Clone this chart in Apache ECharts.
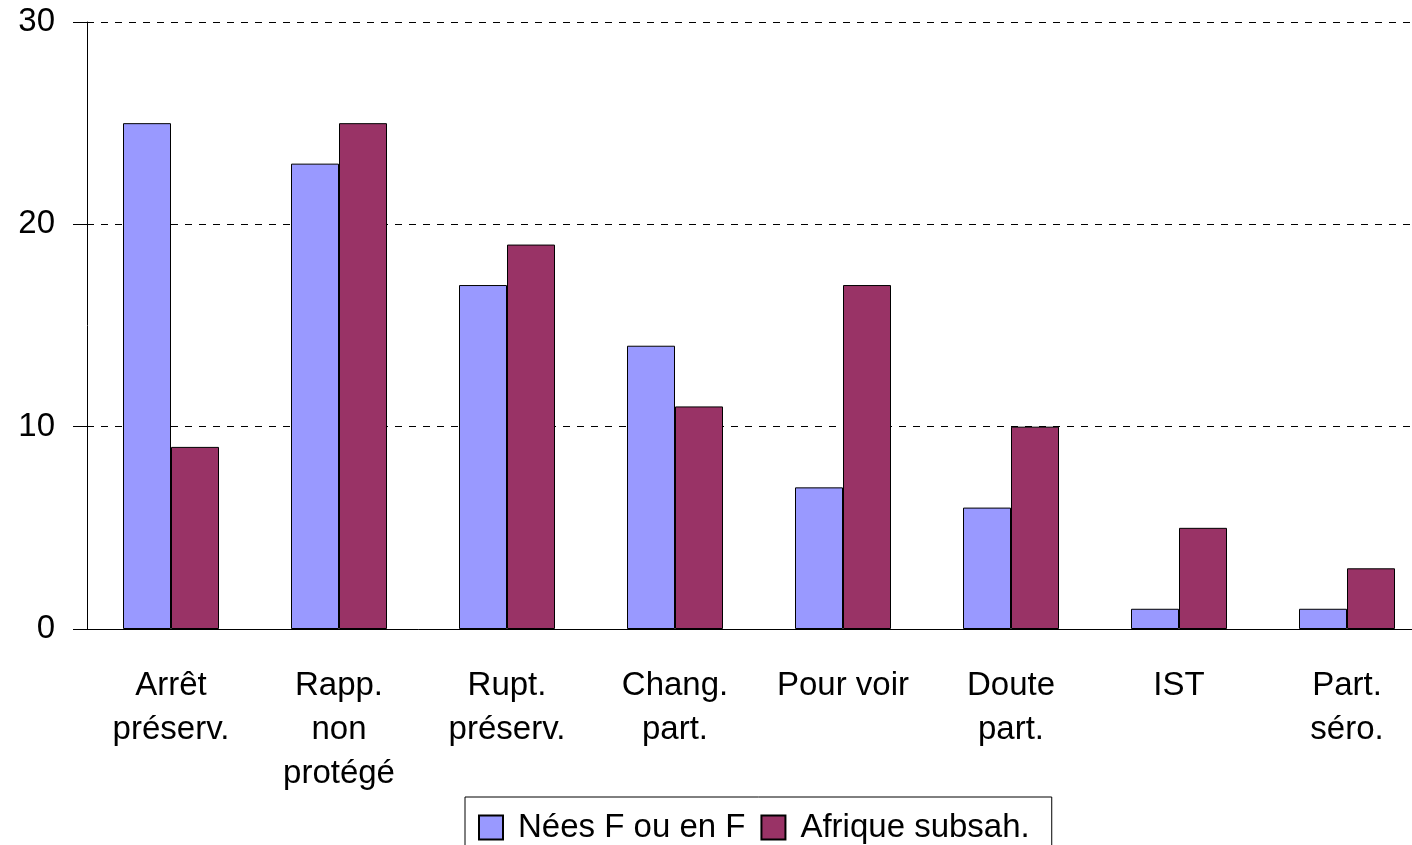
<!DOCTYPE html>
<html>
<head>
<meta charset="utf-8">
<script src="https://cdn.jsdelivr.net/npm/echarts@6/dist/echarts.min.js"></script>
<style>
  html, body { margin: 0; padding: 0; background: #fff; }
  #chart { width: 1412px; height: 845px; }
</style>
</head>
<body>
<div id="chart"></div>
<script>
// catégories et valeurs
const categories = ['Arrêt\npréserv.', 'Rapp.\nnon\nprotégé', 'Rupt.\npréserv.', 'Chang.\npart.', 'Pour voir', 'Doute\npart.', 'IST', 'Part.\nséro.'];
const neesF = [25, 23, 17, 14, 7, 6, 1, 1];
const afrique = [9, 25, 19, 11, 17, 10, 5, 3];
const seriesNames = ['Nées F ou en F', 'Afrique subsah.'];

const font = "'Liberation Sans', Arial, sans-serif";
const chart = echarts.init(document.getElementById('chart'));

const option = {
  animation: false,
  backgroundColor: '#fff',
  textStyle: { fontFamily: font },
  // le graphique d'origine est coupé à droite
  grid: { left: 87, top: 22, right: -19, height: 607, outerBoundsMode: 'none', containLabel: false },
  legend: {
    left: 465,
    top: 797,
    icon: 'rect',
    itemWidth: 24,
    itemHeight: 24,
    itemGap: 15,
    padding: [14, 22, 12, 13],
    borderColor: '#000',
    borderWidth: 1,
    textStyle: { fontSize: 33, color: '#000', fontFamily: font, padding: [0, 0, 0, 10] },
    data: seriesNames
  },
  xAxis: {
    type: 'category',
    data: categories,
    axisLine: { lineStyle: { color: '#000', width: 1 } },
    axisTick: { length: 12, interval: 0, lineStyle: { color: '#000' } },
    axisLabel: {
      interval: 0,
      fontSize: 33,
      lineHeight: 44,
      margin: 35,
      color: '#000',
      fontFamily: font
    }
  },
  yAxis: {
    type: 'value',
    min: 0,
    max: 30,
    interval: 10,
    axisLine: { show: true, lineStyle: { color: '#000', width: 1 } },
    axisTick: { show: true, length: 14, lineStyle: { color: '#000' } },
    axisLabel: { fontSize: 33, color: '#000', margin: 32, fontFamily: font, padding: [5, 0, 0, 0] },
    splitLine: { lineStyle: { color: '#000', type: [7, 7], width: 1 } }
  },
  series: [
    {
      name: seriesNames[0],
      type: 'bar',
      data: neesF,
      barWidth: 48,
      barGap: '0%',
      itemStyle: { color: '#9999FF', borderColor: '#000', borderWidth: 1 }
    },
    {
      name: seriesNames[1],
      type: 'bar',
      data: afrique,
      barWidth: 48,
      barGap: '0%',
      itemStyle: { color: '#993366', borderColor: '#000', borderWidth: 1 }
    }
  ]
};

chart.setOption(option);
</script>
</body>
</html>
